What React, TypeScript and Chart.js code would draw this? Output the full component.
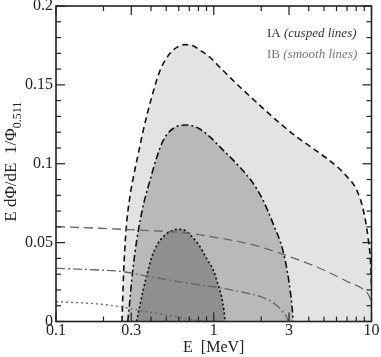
import React, { useEffect, useRef } from 'react';
import { Chart, registerables } from 'chart.js';
Chart.register(...registerables);

// ---- axis ticks ----
const xTickValues = [0.1, 0.3, 1, 3, 10];
const xTickLabels = ['0.1', '0.3', '1', '3', '10'];
const xMinorTicks = [0.2, 0.4, 0.5, 0.6, 0.7, 0.8, 0.9, 2, 4, 5, 6, 7, 8, 9];
const yTickValues = [0, 0.05, 0.1, 0.15, 0.2];
const yTickLabels = ['0', '0.05', '0.1', '0.15', '0.2'];
const yMinorTicks = [0.01, 0.02, 0.03, 0.04, 0.06, 0.07, 0.08, 0.09, 0.11, 0.12, 0.13, 0.14, 0.16, 0.17, 0.18, 0.19];

// ---- IA (cusped lines): filled regions ----
const iaDashE = [0.262, 0.268, 0.278, 0.295, 0.31, 0.335, 0.357, 0.405, 0.456, 0.528, 0.6, 0.66, 0.73, 0.818, 0.946, 1.097, 1.47, 1.96, 2.5, 3.36, 4.5, 6.0, 6.97, 8.05, 8.87, 9.55, 9.9, 10.0];
const iaDashV = [0, 0.03, 0.058, 0.08, 0.092, 0.108, 0.121, 0.1425, 0.159, 0.17, 0.1745, 0.1755, 0.175, 0.172, 0.1675, 0.161, 0.1485, 0.137, 0.1275, 0.117, 0.108, 0.0985, 0.092, 0.0834, 0.0707, 0.0517, 0.035, 0.022];

const iaDashDotE = [0.285, 0.293, 0.302, 0.316, 0.333, 0.36, 0.395, 0.435, 0.479, 0.555, 0.673, 0.8, 0.946, 1.15, 1.397, 1.78, 2.05, 2.39, 2.76, 3.0, 3.13, 3.19];
const iaDashDotV = [0, 0.012, 0.0263, 0.043, 0.058, 0.075, 0.0897, 0.104, 0.115, 0.1225, 0.1246, 0.1225, 0.117, 0.1085, 0.1, 0.0875, 0.077, 0.0615, 0.044, 0.025, 0.01, 0];

const iaDotE = [0.324, 0.34, 0.357, 0.38, 0.405, 0.44, 0.479, 0.53, 0.582, 0.63, 0.673, 0.74, 0.818, 0.9, 0.993, 1.06, 1.12, 1.16, 1.18];
const iaDotV = [0, 0.01, 0.02, 0.031, 0.041, 0.049, 0.0538, 0.057, 0.0584, 0.0584, 0.057, 0.053, 0.0474, 0.04, 0.0326, 0.024, 0.0157, 0.007, 0];

// ---- IB (smooth lines) ----
const ibDashE = [0.1, 0.19, 0.267, 0.324, 0.707, 1.0, 1.47, 1.87, 2.76, 3.5, 4.95, 7.3, 8.87, 9.5, 10];
const ibDashV = [0.0601, 0.0591, 0.0584, 0.058, 0.0559, 0.0535, 0.0505, 0.048, 0.0425, 0.0388, 0.0328, 0.0245, 0.0205, 0.0175, 0.0125];

const ibDashDotE = [0.1, 0.19, 0.267, 0.395, 0.673, 1.15, 1.47, 1.87, 2.05, 2.39, 2.63, 2.76, 2.9, 2.97];
const ibDashDotV = [0.0337, 0.0326, 0.0316, 0.0284, 0.0245, 0.021, 0.0189, 0.0166, 0.0152, 0.0118, 0.0082, 0.0058, 0.0028, 0];

const ibDotE = [0.1, 0.19, 0.255, 0.281, 0.35, 0.502, 0.65, 0.78, 0.85];
const ibDotV = [0.0126, 0.011, 0.0094, 0.0086, 0.0068, 0.0041, 0.002, 0.0008, 0];

const pts = (xs: number[], ys: number[]) => xs.map((x, i) => ({ x, y: ys[i] }));

const serif = '"Liberation Serif", "DejaVu Serif", serif';

const overlay = {
  id: 'overlay',
  afterDraw(chart: any) {
    const { ctx, chartArea: a, scales } = chart;
    const xs = scales.x;
    const ys = scales.y;
    ctx.save();
    ctx.setLineDash([]);
    ctx.strokeStyle = '#222';
    ctx.lineWidth = 1.2;
    const seg = (x1: number, y1: number, x2: number, y2: number) => {
      ctx.beginPath();
      ctx.moveTo(x1, y1);
      ctx.lineTo(x2, y2);
      ctx.stroke();
    };
    const MAJ = 9, MIN = 5;
    xTickValues.forEach((v) => {
      const p = xs.getPixelForValue(v);
      seg(p, a.bottom, p, a.bottom - MAJ);
      seg(p, a.top, p, a.top + MAJ);
    });
    xMinorTicks.forEach((v) => {
      const p = xs.getPixelForValue(v);
      seg(p, a.bottom, p, a.bottom - MIN);
      seg(p, a.top, p, a.top + MIN);
    });
    yTickValues.forEach((v) => {
      const p = ys.getPixelForValue(v);
      seg(a.left, p, a.left + MAJ, p);
      seg(a.right, p, a.right - MAJ, p);
    });
    yMinorTicks.forEach((v) => {
      const p = ys.getPixelForValue(v);
      seg(a.left, p, a.left + MIN, p);
      seg(a.right, p, a.right - MIN, p);
    });
    ctx.lineWidth = 1.6;
    ctx.strokeRect(a.left, a.top, a.right - a.left, a.bottom - a.top);

    // legend texts
    ctx.textBaseline = 'alphabetic';
    ctx.textAlign = 'left';
    const legend = (x: number, y: number, plain: string, ital: string, color: string) => {
      ctx.fillStyle = color;
      ctx.font = `13px ${serif}`;
      ctx.fillText(plain, x, y);
      const w = ctx.measureText(plain).width;
      ctx.font = `italic 13px ${serif}`;
      ctx.fillText(ital, x + w, y);
    };
    legend(267, 37, 'IA ', '(cusped lines)', '#333');
    legend(267, 58, 'IB ', '(smooth lines)', '#777');

    // y axis title with subscript
    const cy = (a.top + a.bottom) / 2 - 2;
    ctx.translate(16, cy);
    ctx.rotate(-Math.PI / 2);
    ctx.fillStyle = '#222';
    const main = 'E dΦ/dE  1/Φ';
    const sub = '0.511';
    ctx.font = `17px ${serif}`;
    const w1 = ctx.measureText(main).width;
    ctx.font = `12px ${serif}`;
    const w2 = ctx.measureText(sub).width;
    const start = -(w1 + w2) / 2;
    ctx.font = `17px ${serif}`;
    ctx.fillText(main, start, 0);
    ctx.font = `12px ${serif}`;
    ctx.fillText(sub, start + w1, 5);
    ctx.restore();
  },
};

export default function App() {
  const ref = useRef<HTMLCanvasElement>(null);
  useEffect(() => {
    if (!ref.current) return;
    const black = '#111';
    const gray = '#666';
    const chart = new Chart(ref.current, {
      type: 'line',
      data: {
        datasets: [
          { data: pts(ibDashE, ibDashV), borderColor: gray, borderWidth: 1.3, borderDash: [9, 5], fill: false },
          { data: pts(ibDashDotE, ibDashDotV), borderColor: gray, borderWidth: 1.3, borderDash: [9, 3, 2, 3], fill: false },
          { data: pts(ibDotE, ibDotV), borderColor: gray, borderWidth: 1.3, borderDash: [2, 3], fill: false },
          { data: pts(iaDotE, iaDotV), borderColor: black, borderWidth: 1.7, borderDash: [2, 2.5], fill: 'origin', backgroundColor: '#8f8f8f' },
          { data: pts(iaDashDotE, iaDashDotV), borderColor: black, borderWidth: 1.6, borderDash: [7, 3, 2, 3], fill: 'origin', backgroundColor: '#b9b9b9' },
          { data: pts(iaDashE, iaDashV), borderColor: black, borderWidth: 1.6, borderDash: [6, 4], fill: 'origin', backgroundColor: '#e3e3e3' },
        ] as any,
      },
      options: {
        animation: false,
        responsive: false,
        events: [],
        layout: { padding: { top: 6, right: 9.5, left: 0, bottom: 0 } },
        elements: { point: { radius: 0 }, line: { cubicInterpolationMode: 'monotone' } },
        plugins: { legend: { display: false }, tooltip: { enabled: false } },
        scales: {
          x: {
            type: 'logarithmic',
            min: 0.1,
            max: 10,
            grid: { display: false, drawTicks: false },
            border: { display: false },
            afterBuildTicks: (s: any) => { s.ticks = xTickValues.map((v) => ({ value: v })); },
            afterFit: (s: any) => { s.height = 35.5; s.paddingLeft = 0; s.paddingRight = 0; },
            ticks: {
              autoSkip: false,
              maxRotation: 0,
              padding: 0,
              color: '#222',
              font: { family: serif, size: 16 },
              callback: (_v: any, i: number) => xTickLabels[i],
            },
            title: { display: true, text: 'E  [MeV]', color: '#222', font: { family: serif, size: 16 }, padding: { top: 0, bottom: 0 } },
          },
          y: {
            min: 0,
            max: 0.2,
            grid: { display: false, drawTicks: false },
            border: { display: false },
            afterBuildTicks: (s: any) => { s.ticks = yTickValues.map((v) => ({ value: v })); },
            afterFit: (s: any) => { s.width = 56; s.paddingTop = 0; s.paddingBottom = 0; },
            ticks: {
              padding: 3,
              color: '#222',
              font: { family: serif, size: 16 },
              callback: (_v: any, i: number) => yTickLabels[i],
            },
          },
        },
      } as any,
      plugins: [overlay],
    });
    return () => chart.destroy();
  }, []);
  return (
    <div style={{ position: 'absolute', left: 0, top: 0, width: 381, height: 357, background: '#fff' }}>
      <canvas ref={ref} width={381} height={357} />
    </div>
  );
}
